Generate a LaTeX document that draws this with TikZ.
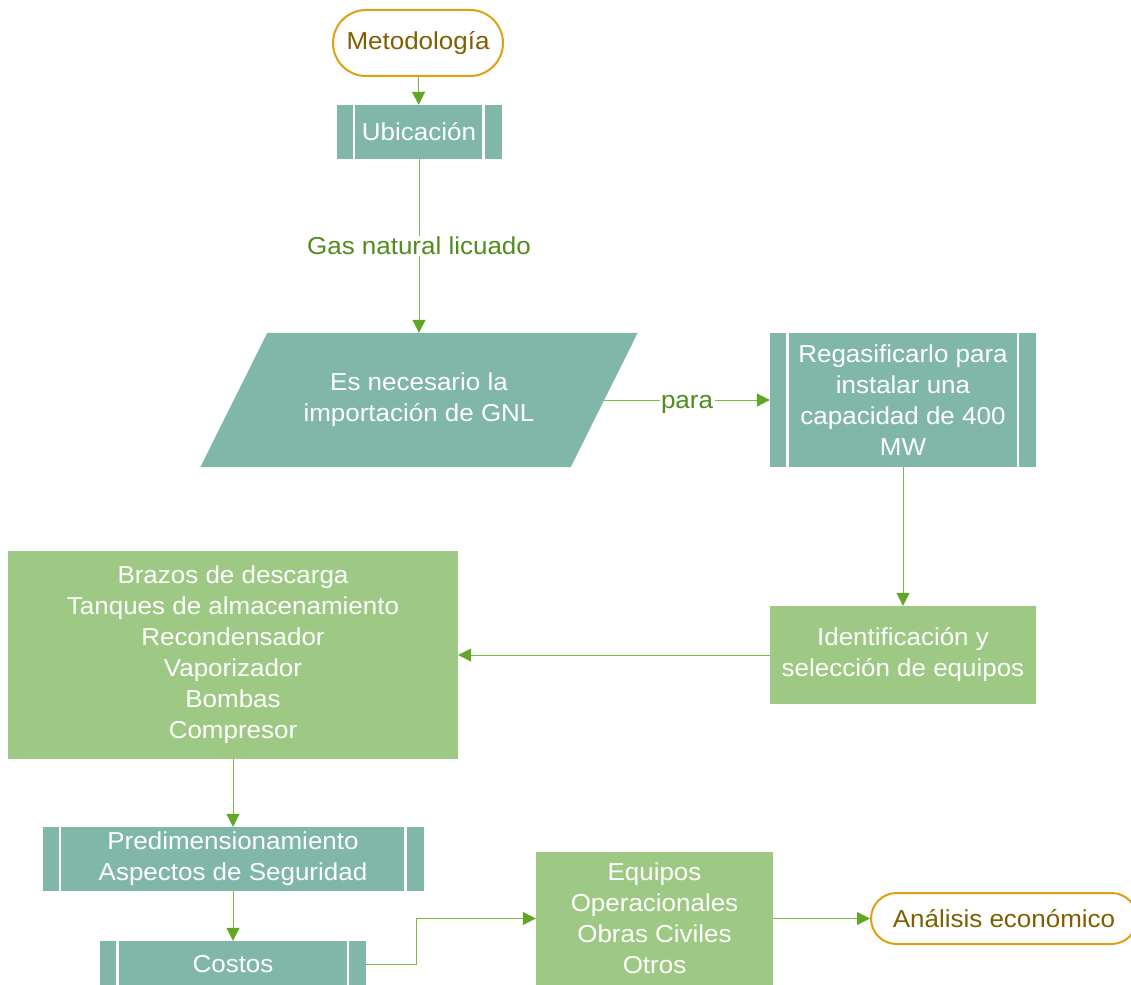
\documentclass[tikz,border=0pt]{standalone}
\usepackage{fontspec}
\setmainfont{Liberation Sans}[FakeStretch=1.06]
\usetikzlibrary{arrows.meta,backgrounds,calc}

\definecolor{tealbox}{RGB}{128,183,168}
\definecolor{greenbox}{RGB}{158,201,133}
\definecolor{lineg}{RGB}{125,184,72}
\definecolor{tipg}{RGB}{98,166,40}
\definecolor{lblg}{RGB}{80,140,30}
\definecolor{termline}{RGB}{224,160,16}
\definecolor{termtext}{RGB}{127,95,0}

\tikzset{
  every node/.style={font=\fontsize{24.5}{31}\selectfont, align=center, inner sep=0pt},
  procbox/.style={fill=greenbox, text=white},
  predef/.style={fill=tealbox, text=white,
    path picture={
      \draw[white, line width=2.2pt]
        ([xshift=17.5pt]path picture bounding box.north west) -- ([xshift=17.5pt]path picture bounding box.south west)
        ([xshift=-18pt]path picture bounding box.north east) -- ([xshift=-18pt]path picture bounding box.south east);
    }},
  terminal/.style={draw=termline, line width=2pt, fill=white, text=termtext},
  conn/.style={draw=lineg, line width=1pt, -{Triangle[length=13pt,width=13pt,color=tipg]}},
  lbl/.style={text=lblg, fill=white, inner sep=1.5pt},
}

\begin{document}
\begin{tikzpicture}[x=1pt,y=-1pt]
\useasboundingbox (0,0) rectangle (1131,984);

% start terminal
\node[terminal, minimum width=170, minimum height=66, rounded corners=33] (met) at (418,43) {Metodología};

% location
\node[predef, minimum width=165, minimum height=54] (ub) at (419,132) {Ubicación};

% import step (parallelogram drawn behind its text node)
\node[text=white, minimum width=370, minimum height=134] (imp) at (419,400) {Es necesario la\\importación de GNL};
\begin{scope}[on background layer]
  \fill[tealbox] ([xshift=33.5]imp.north west) -- ([xshift=33.5]imp.north east)
     -- ([xshift=-33.5]imp.south east) -- ([xshift=-33.5]imp.south west) -- cycle;
\end{scope}

% regasification
\node[predef, minimum width=266, minimum height=134] (reg) at (903,400)
  {Regasificarlo para\\instalar una\\capacidad de 400\\MW};

% equipment identification
\node[procbox, minimum width=266, minimum height=98] (ident) at (903,655)
  {Identificación y\\selección de equipos};

% equipment list
\node[procbox, minimum width=450, minimum height=208] (list) at (233,655)
  {Brazos de descarga\\Tanques de almacenamiento\\Recondensador\\Vaporizador\\Bombas\\Compresor};

% sizing and safety
\node[predef, minimum width=381, minimum height=64] (pre) at (233,859)
  {Predimensionamiento\\Aspectos de Seguridad};

% costs
\node[predef, minimum width=266, minimum height=46] (cost) at (233,964) {Costos};

% cost breakdown
\node[procbox, minimum width=237, minimum height=134] (brk) at (654.5,918.5)
  {Equipos\\Operacionales\\Obras Civiles\\Otros};

% end terminal
\node[terminal, minimum width=266, minimum height=51, rounded corners=25.5] (ana) at (1004,918.5)
  {Análisis económico};

% connectors
\draw[conn] (met) -- (ub);
\draw[conn] (ub) -- node[lbl] {Gas natural licuado} (imp);
\draw[conn] (imp.east) -- node[lbl, yshift=-4pt] {para} (reg);
\draw[conn] (reg) -- (ident);
\draw[conn] (ident) -- (list);
\draw[conn] (list) -- (pre);
\draw[conn] (pre) -- (cost);
\draw[conn] (cost.east) -- ++(50,0) |- (brk.west);
\draw[conn] (brk) -- (ana);
\end{tikzpicture}
\end{document}
